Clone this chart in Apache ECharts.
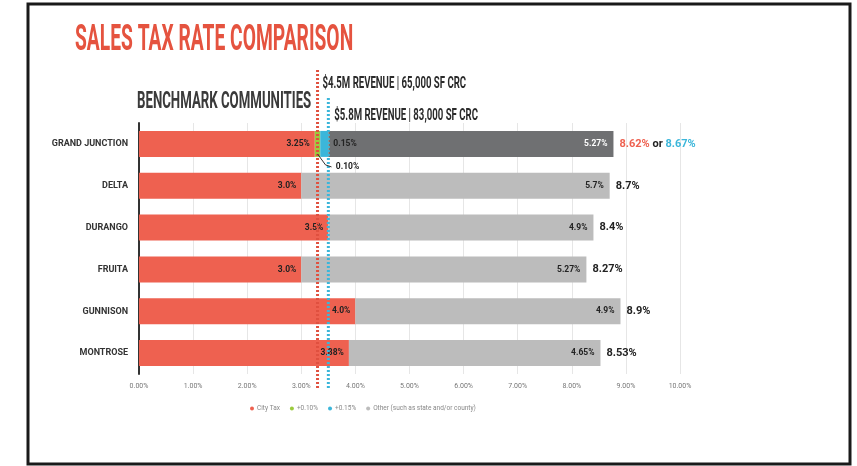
<!DOCTYPE html>
<html><head><meta charset="utf-8">
<script src="https://cdn.jsdelivr.net/npm/echarts@6/dist/echarts.min.js"></script>
<style>html,body{margin:0;padding:0;background:#fff}#c{width:857px;height:466px}</style>
</head><body><div id="c"></div>
<script>
const categories = ['GRAND JUNCTION','DELTA','DURANGO','FRUITA','GUNNISON','MONTROSE'];
const cityTax = [3.25, 3.0, 3.5, 3.0, 4.0, 3.88];
const cityLabels = ['3.25%','3.0%','3.5%','3.0%','4.0%','3.88%'];
const plus010 = [0.10, 0, 0, 0, 0, 0];
const plus015 = [0.15, 0, 0, 0, 0, 0];
const other = [5.27, 5.7, 4.9, 5.27, 4.9, 4.65];
const otherLabels = ['5.27%','5.7%','4.9%','5.27%','4.9%','4.65%'];
const totalLabels = ['{r|8.62%} {k|or} {b|8.67%}','8.7%','8.4%','8.27%','8.9%','8.53%'];
const xTicks = [0,1,2,3,4,5,6,7,8,9,10];
const line45 = 3.3, line58 = 3.5;

const FONT = '"Roboto","Liberation Sans",sans-serif';
const RED = '#ee6150', CYAN = '#3bb6da', GREEN = '#9bcb3e', GRAY = '#bcbcbc', DARK = '#6f7072';

const chart = echarts.init(document.getElementById('c'));
const cats = categories.slice().reverse();
const rev = a => a.slice().reverse();

const option = {
  animation: false,
  grid: {left: 139, right: 177, top: 123, bottom: 92},
  xAxis: {
    type: 'value', min: xTicks[0], max: xTicks[xTicks.length-1], interval: 1,
    axisLine: {show: false}, axisTick: {show: false},
    splitLine: {lineStyle: {color: '#e6e6e6', width: 1}},
    axisLabel: {formatter: v => v.toFixed(2) + '%', color: '#777', fontSize: 7, fontFamily: FONT, margin: 9}
  },
  yAxis: {
    type: 'category', data: cats,
    axisLine: {lineStyle: {color: '#333', width: 2}}, axisTick: {show: false},
    axisLabel: {color: '#333', fontSize: 9, fontWeight: 'bold', fontFamily: FONT, margin: 11}
  },
  legend: {
    data: ['City Tax', '+0.10%', '+0.15%', 'Other (such as state and/or county)'],
    bottom: 49, left: 245, itemWidth: 4, itemHeight: 4, icon: 'circle', itemGap: 10,
    textStyle: {fontSize: 6.5, color: '#888', fontFamily: FONT, padding: [0, 0, 0, -2]}
  },
  series: [
    {name: 'City Tax', type: 'bar', stack: 't', barWidth: 26, data: rev(cityTax),
     itemStyle: {color: RED},
     label: {show: true, position: 'insideRight', distance: 5, color: '#222', fontSize: 8.5, fontWeight: 'bold', fontFamily: FONT,
       formatter: p => rev(cityLabels)[p.dataIndex]}},
    {name: '+0.10%', type: 'bar', stack: 't', data: rev(plus010).map(v => v || null),
     itemStyle: {color: GREEN},
     label: {show: true, position: 'bottom', offset: [30, 0], color: '#222', fontSize: 8.5, fontWeight: 'bold', fontFamily: FONT,
       formatter: p => p.value ? p.value.toFixed(2) + '%' : ''}},
    {name: '+0.15%', type: 'bar', stack: 't', data: rev(plus015).map(v => v || null),
     itemStyle: {color: CYAN},
     label: {show: true, position: 'right', distance: 5, color: '#222', fontSize: 8.5, fontWeight: 'bold', fontFamily: FONT,
       formatter: p => p.value ? p.value.toFixed(2) + '%' : ''}},
    {name: 'Other (such as state and/or county)', type: 'bar', stack: 't', data: rev(other).map((v, i) => ({value: v, itemStyle: {color: i === cats.length - 1 ? DARK : GRAY}})),
     itemStyle: {color: GRAY},
     label: {show: true, position: 'insideRight', distance: 6, fontSize: 8.5, fontWeight: 'bold', fontFamily: FONT,
       formatter: p => rev(otherLabels)[p.dataIndex],
       color: '#222'}},
    {name: 'total', type: 'bar', stack: 't', data: cats.map(() => 0), itemStyle: {color: 'transparent'},
     label: {show: true, position: 'right', distance: 6, color: '#222', fontSize: 11, fontWeight: 'bold', fontFamily: FONT,
       formatter: p => rev(totalLabels)[p.dataIndex],
       rich: {r: {color: RED, fontSize: 11, fontWeight: 'bold', fontFamily: FONT},
              b: {color: CYAN, fontSize: 11, fontWeight: 'bold', fontFamily: FONT},
              k: {color: '#222', fontSize: 11, fontWeight: 'bold', fontFamily: FONT}}}}
  ]
};
option.series[3].data[cats.length - 1].label = {color: '#fff'};
chart.setOption(option);

const gx = v => chart.convertToPixel({xAxisIndex: 0}, v);
const gy = c => chart.convertToPixel({yAxisIndex: 0}, c);
const gjY = gy('GRAND JUNCTION');
const x45 = gx(line45), x58 = gx(line58);
const x010 = gx(cityTax[0] + plus010[0] / 2);
const condensed = (txt, x, y, size, color, sx) => ({
  type: 'text', x: x, y: y, scaleX: sx, z: 70,
  style: {text: txt, fill: color, font: 'bold ' + size + 'px ' + FONT, textVerticalAlign: 'top', verticalAlign: 'top'}
});
chart.setOption({graphic: [
  {type: 'rect', shape: {x: 28, y: 4, width: 822, height: 460}, style: {fill: 'none', stroke: '#1a1a1a', lineWidth: 3}, z: 100},
  condensed('SALES TAX RATE COMPARISON', 75, 22, 37, '#e5533f', 0.52),
  condensed('BENCHMARK COMMUNITIES', 137, 91, 23, '#3a3a3a', 0.575),
  {type: 'line', shape: {x1: x45, y1: 70, x2: x45, y2: 389}, style: {stroke: '#e0503f', lineWidth: 3, lineDash: [2, 2]}, z: 50},
  {type: 'line', shape: {x1: x58, y1: 98, x2: x58, y2: 389}, style: {stroke: CYAN, lineWidth: 3, lineDash: [2, 2]}, z: 50},
  condensed('$4.5M REVENUE | 65,000 SF CRC', x45 + 5, 76, 16, '#2a2a2a', 0.6),
  condensed('$5.8M REVENUE | 83,000 SF CRC', x58 + 6, 108, 16, '#2a2a2a', 0.6),
  {type: 'polyline', shape: {points: [[x010, gjY + 10], [x010 + 8, gjY + 21], [x010 + 14, gjY + 23]]}, style: {stroke: '#333', lineWidth: 1, fill: 'none'}, z: 60}
]});
</script></body></html>
